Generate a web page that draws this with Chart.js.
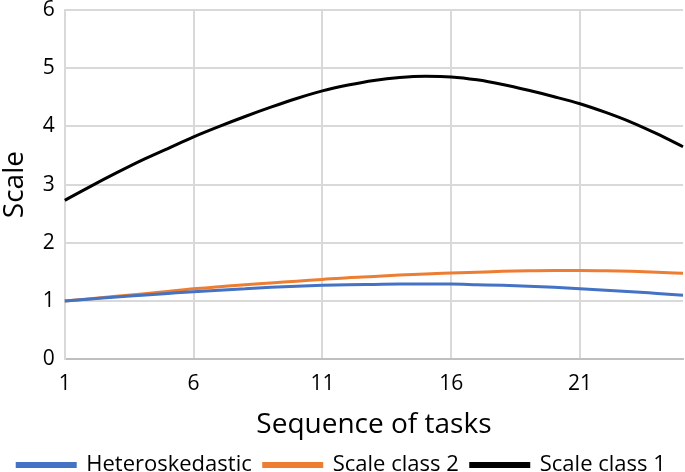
<!DOCTYPE html>
<html>
<head>
<meta charset="utf-8">
<script src="https://cdn.jsdelivr.net/npm/chart.js@4/dist/chart.umd.min.js"></script>
<style>
  html, body { margin: 0; padding: 0; background: #fff; }
  #wrap { width: 685px; height: 472px; }
</style>
</head>
<body>
<div id="wrap"><canvas id="myChart"></canvas></div>
<script>
// Datos
const tareas = [1, 2, 3, 4, 5, 6, 7, 8, 9, 10, 11, 12, 13, 14, 15, 16, 17, 18, 19, 20, 21, 22, 23, 24, 25];
const heteroskedastic = [1.00, 1.035, 1.07, 1.10, 1.13, 1.16, 1.185, 1.21, 1.235, 1.255, 1.27, 1.28, 1.285, 1.29, 1.29, 1.29, 1.28, 1.27, 1.255, 1.235, 1.21, 1.185, 1.16, 1.13, 1.10];
const scaleClass2 = [1.00, 1.04, 1.08, 1.12, 1.165, 1.21, 1.245, 1.28, 1.31, 1.34, 1.37, 1.40, 1.42, 1.445, 1.465, 1.48, 1.495, 1.51, 1.52, 1.525, 1.525, 1.52, 1.51, 1.495, 1.475];
const scaleClass1 = [2.73, 2.97, 3.20, 3.42, 3.62, 3.82, 4.00, 4.17, 4.33, 4.48, 4.61, 4.71, 4.79, 4.84, 4.86, 4.85, 4.80, 4.72, 4.62, 4.51, 4.39, 4.24, 4.07, 3.87, 3.65];

const fuente = "'Open Sans', 'Noto Sans', sans-serif";
const gris = '#d9d9d9';

const ctx = document.getElementById('myChart').getContext('2d');
new Chart(ctx, {
  type: 'line',
  data: {
    labels: tareas,
    datasets: [{
      label: 'Heteroskedastic',
      data: heteroskedastic,
      borderColor: '#4472C4',
      backgroundColor: '#4472C4'
    }, {
      label: 'Scale class 2',
      data: scaleClass2,
      borderColor: '#ED7D31',
      backgroundColor: '#ED7D31'
    }, {
      label: 'Scale class 1',
      data: scaleClass1,
      borderColor: '#000000',
      backgroundColor: '#000000'
    }]
  },
  options: {
    responsive: true,
    maintainAspectRatio: false,
    animation: false,
    layout: { padding: { left: 0, right: 2, top: 0, bottom: -14 } },
    elements: {
      point: { radius: 0 },
      line: { borderWidth: 3, tension: 0.4, cubicInterpolationMode: 'monotone' }
    },
    plugins: {
      tooltip: { enabled: false },
      legend: {
        position: 'bottom',
        labels: {
          boxWidth: 58,
          boxHeight: 3,
          padding: 12,
          color: '#000',
          font: { family: fuente, size: 22 }
        }
      }
    },
    scales: {
      x: {
        offset: false,
        grid: {
          color: (c) => (c.index % 5 === 0 ? gris : 'rgba(0,0,0,0)'),
          lineWidth: 2,
          drawTicks: false
        },
        border: { color: '#bfbfbf', width: 2 },
        ticks: {
          autoSkip: false,
          maxRotation: 0,
          padding: 12,
          color: '#000',
          font: { family: fuente, size: 21 },
          callback: function (v, i) { return i % 5 === 0 ? this.getLabelForValue(v) : ''; }
        },
        // el último valor no lleva etiqueta: sin margen a la derecha
        afterFit: (s) => { s.paddingRight = 0; },
        title: {
          display: true,
          text: 'Sequence of tasks',
          color: '#000',
          padding: { top: 0, bottom: 0 },
          font: { family: fuente, size: 28 }
        }
      },
      y: {
        min: 0,
        max: 6,
        grid: { color: gris, lineWidth: 2, drawTicks: false },
        border: { color: gris, width: 2 },
        ticks: {
          stepSize: 1,
          padding: 10,
          color: '#000',
          font: { family: fuente, size: 21 }
        },
        afterFit: (s) => { s.paddingTop = 10; s.paddingBottom = 0; },
        title: {
          display: true,
          text: 'Scale',
          color: '#000',
          padding: { top: 0, bottom: 2 },
          font: { family: fuente, size: 28, lineHeight: 1.1 }
        }
      }
    }
  }
});
</script>
</body>
</html>
